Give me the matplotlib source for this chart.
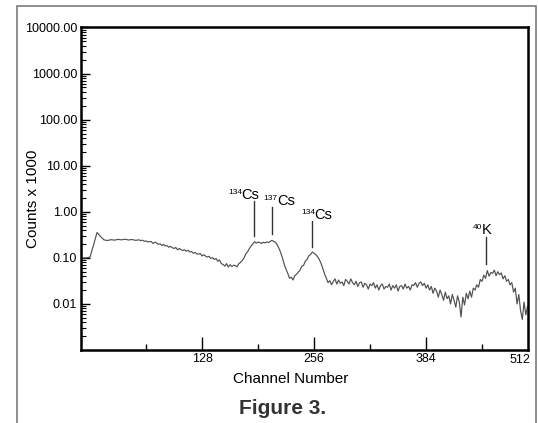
import matplotlib
matplotlib.use("Agg")
import matplotlib.pyplot as plt
from matplotlib.patches import Rectangle
from matplotlib.ticker import LogLocator, FixedLocator, NullFormatter, FormatStrFormatter

plt.rcParams["font.family"] = ["Liberation Sans", "DejaVu Sans"]

# spectrum (channel, counts x 1000)
channels = [-8, -4, 0, 4, 8, 12, 16, 20, 24, 28, 32, 36, 40, 44, 48, 52, 56] + list(range(58, 501, 2))
counts = [
    0.099, 0.100, 0.104, 0.19, 0.355, 0.29, 0.245, 0.238, 0.248, 0.242, 0.252, 0.246, 0.254, 0.244, 0.250, 0.240, 0.246,
    0.236, 0.242, 0.228, 0.233, 0.221, 0.226, 0.224, 0.205, 0.219, 0.210, 0.197, 0.202, 0.186, 0.195, 0.181, 0.184,
    0.170, 0.178, 0.166, 0.160, 0.168, 0.149, 0.160, 0.151, 0.144, 0.150, 0.139, 0.146, 0.134, 0.137, 0.126, 0.131,
    0.122, 0.120, 0.124, 0.110, 0.117, 0.109, 0.104, 0.108, 0.097, 0.101, 0.092, 0.097, 0.084, 0.090, 0.075, 0.072,
    0.066, 0.075, 0.063, 0.071, 0.065, 0.069, 0.068, 0.064, 0.075, 0.080, 0.088, 0.100, 0.122, 0.135, 0.158, 0.180,
    0.200, 0.224, 0.210, 0.220, 0.214, 0.205, 0.218, 0.211, 0.222, 0.215, 0.228, 0.240, 0.226, 0.218, 0.190, 0.160,
    0.128, 0.098, 0.072, 0.056, 0.046, 0.036, 0.038, 0.033, 0.041, 0.044, 0.049, 0.054, 0.066, 0.068, 0.085, 0.092,
    0.110, 0.118, 0.134, 0.126, 0.118, 0.106, 0.092, 0.076, 0.058, 0.045, 0.036, 0.029, 0.032, 0.026, 0.031, 0.035,
    0.027, 0.033, 0.028, 0.030, 0.025, 0.034, 0.031, 0.027, 0.035, 0.029, 0.026, 0.031, 0.024, 0.029, 0.030, 0.023,
    0.028, 0.026, 0.021, 0.027, 0.025, 0.029, 0.022, 0.026, 0.020, 0.025, 0.027, 0.021, 0.024, 0.023, 0.027, 0.020,
    0.025, 0.022, 0.026, 0.019, 0.024, 0.025, 0.021, 0.027, 0.022, 0.024, 0.020, 0.026, 0.025, 0.029, 0.023, 0.028,
    0.030, 0.025, 0.028, 0.022, 0.026, 0.020, 0.024, 0.017, 0.022, 0.019, 0.014, 0.020, 0.016, 0.012, 0.018, 0.013,
    0.015, 0.010, 0.016, 0.012, 0.0085, 0.015, 0.011, 0.0052, 0.014, 0.0095, 0.017, 0.013, 0.019, 0.014, 0.022, 0.020,
    0.026, 0.023, 0.034, 0.031, 0.042, 0.036, 0.053, 0.040, 0.048, 0.046, 0.054, 0.041, 0.050, 0.043, 0.047, 0.035,
    0.041, 0.031, 0.034, 0.026, 0.029, 0.018, 0.022, 0.010, 0.016, 0.0072, 0.0046, 0.011, 0.0058, 0.0088,
]

# peak labels
peak_isotopes = ["134", "137", "134", "40"]
peak_elements = ["Cs", "Cs", "Cs", "K"]
peak_channels = [187, 208, 254, 453]
peak_tops = [1.73, 1.28, 0.62, 0.288]
peak_bottoms = [0.303, 0.33, 0.170, 0.074]
label_dx = [-8.4, 4.0, 2.2, -2.9]  # points, left edge of element name vs. line

major_x = [128, 256, 384]
minor_x = [64, 192, 320, 448]

fig = plt.figure(figsize=(5.38, 4.23), dpi=100)
ax = fig.add_axes([0.1511, 0.1726, 0.8311, 0.7624])

ax.plot(channels, counts, color="#505050", lw=0.85)

for iso, el, ch, top, bot, dx in zip(peak_isotopes, peak_elements, peak_channels,
                                     peak_tops, peak_bottoms, label_dx):
    ax.plot([ch, ch], [bot, top], color="#333333", lw=1.0)
    ax.annotate(el, xy=(ch, top), xytext=(dx - 0.6, 1.6), textcoords="offset points",
                ha="left", va="baseline", fontsize=10.5)
    ax.annotate(iso, xy=(ch, top), xytext=(dx, 5.2), textcoords="offset points",
                ha="right", va="baseline", fontsize=6)

ax.set_yscale("log")
ax.set_ylim(0.001, 10000)
ax.set_xlim(-10, 501)

ax.yaxis.set_major_locator(FixedLocator([0.01, 0.1, 1, 10, 100, 1000, 10000]))
ax.yaxis.set_major_formatter(FormatStrFormatter("%.2f"))
ax.yaxis.set_minor_locator(LogLocator(base=10, subs=range(2, 10), numticks=20))
ax.yaxis.set_minor_formatter(NullFormatter())

ax.xaxis.set_major_locator(FixedLocator(major_x))
ax.xaxis.set_minor_locator(FixedLocator(minor_x))
ax.set_xticklabels([str(v) for v in major_x])

ax.tick_params(axis="y", which="major", direction="in", length=6.5, width=1.0, labelsize=9, pad=3)
ax.tick_params(axis="y", which="minor", direction="in", length=3.5, width=0.8)
ax.tick_params(axis="x", which="major", direction="in", length=9.4, width=1.0, labelsize=9, pad=2.5)
ax.tick_params(axis="x", which="minor", direction="in", length=4.2, width=1.0)

for sp in ax.spines.values():
    sp.set_linewidth(1.8)

ax.text(1.004, -0.012, "512", transform=ax.transAxes, ha="right", va="top", fontsize=9)

fig.text(33 / 538, 1 - 199 / 423, "Counts x 1000", rotation=90, ha="center", va="center", fontsize=11)
fig.text(290.5 / 538, 1 - 379 / 423, "Channel Number", ha="center", va="center", fontsize=11)
fig.text(282.5 / 538, 1 - 408 / 423, "Figure 3.", ha="center", va="center", fontsize=15,
         fontweight="bold", color="#333333")

fig.patches.append(Rectangle((16.5 / 538, -0.05), (535.5 - 16.5) / 538, 1.05 - 6 / 423,
                             transform=fig.transFigure, fill=False, edgecolor="#707070", lw=1.1))

fig.savefig("out.png", dpi=100)
